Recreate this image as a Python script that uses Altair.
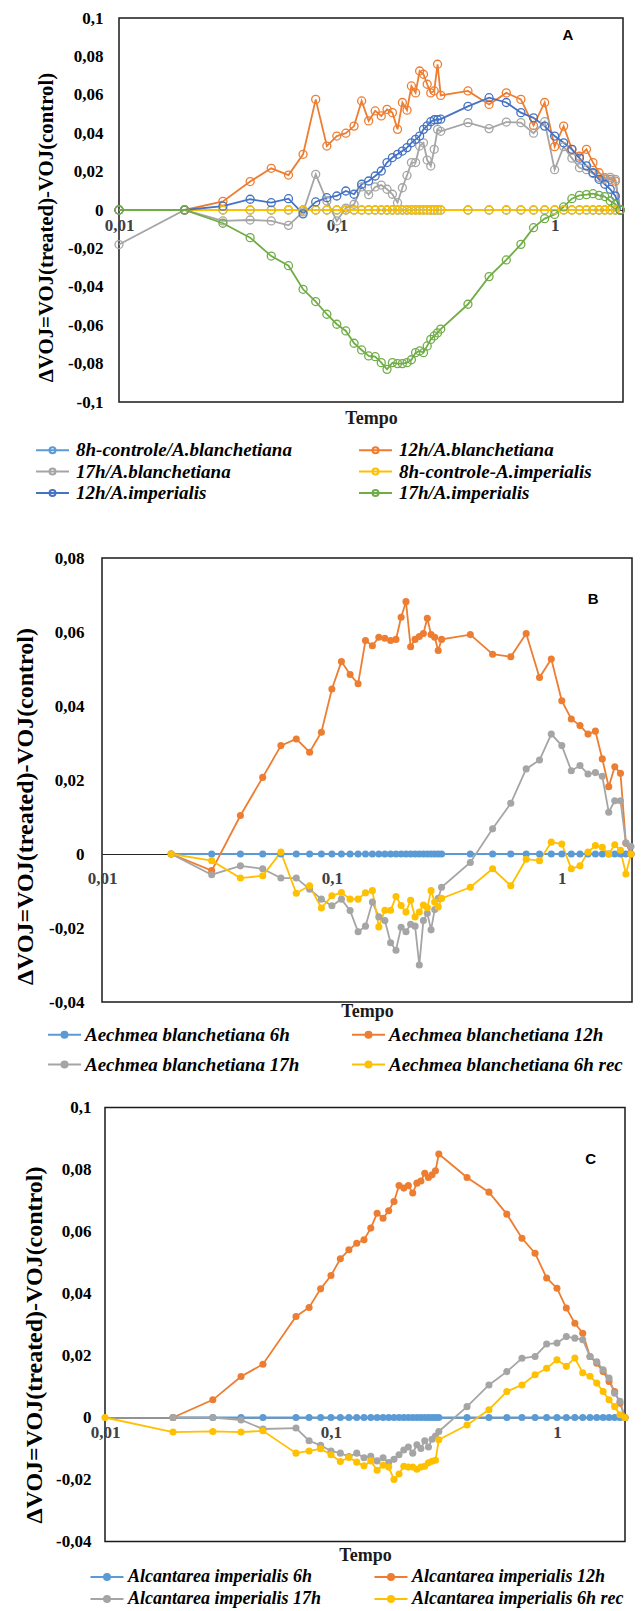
import altair as alt
import pandas as pd

# ---------------- data ----------------
X_A = [0.01, 0.02, 0.03, 0.04, 0.05, 0.06, 0.07, 0.08, 0.09, 0.10,
       0.11, 0.12, 0.13, 0.14, 0.15, 0.16, 0.17, 0.18, 0.19, 0.20,
       0.21, 0.22, 0.23, 0.24, 0.25, 0.26, 0.27, 0.28, 0.29, 0.30,
       0.4, 0.5, 0.6, 0.7, 0.8, 0.9, 1.0,
       1.1, 1.2, 1.3, 1.4, 1.5, 1.6, 1.7, 1.8, 1.9, 2.0]

NAMES_A = ["8h-controle/A.blanchetiana", "12h/A.blanchetiana", "17h/A.blanchetiana",
           "8h-controle-A.imperialis", "12h/A.imperialis", "17h/A.imperialis"]
COLORS_A = ["#5B9BD5", "#ED7D31", "#A5A5A5", "#FFC000", "#4472C4", "#70AD47"]

A_CTRL_BLANCH = [0, 0, 0, 0, 0, 0, 0, 0, 0, 0,
                 0, 0, 0, 0, 0, 0, 0, 0, 0, 0,
                 0, 0, 0, 0, 0, 0, 0, 0, 0, 0,
                 0, 0, 0, 0, 0, 0, 0,
                 0, 0, 0, 0, 0, 0, 0, 0, 0, 0]
A_12H_BLANCH = [0, 0, 0.0045, 0.0148, 0.0217, 0.0182, 0.029, 0.0576, 0.0333, 0.0385,
                0.040, 0.0437, 0.0568, 0.0464, 0.0516, 0.049, 0.0524, 0.0507, 0.042, 0.056,
                0.052, 0.0646, 0.061, 0.0724, 0.0707, 0.0655, 0.061, 0.062, 0.0759, 0.0597,
                0.062, 0.055, 0.061, 0.0576, 0.044, 0.056, 0.033,
                0.0437, 0.0316, 0.028, 0.0316, 0.0247, 0.0194, 0.0168, 0.016, 0.015, 0]
A_17H_BLANCH = [-0.018, 0, -0.0057, -0.0052, -0.0057, -0.008, -0.001, 0.0186, 0.0047, -0.0057,
                0.001, 0.003, 0.012, 0.008, 0.012, 0.013, 0.0108, 0.0082, 0.0038, 0.0116,
                0.018, 0.0247, 0.0247, 0.0333, 0.035, 0.026, 0.0229, 0.0316, 0.042, 0.041,
                0.0455, 0.0424, 0.0458, 0.0455, 0.040, 0.046, 0.021,
                0.033, 0.027, 0.022, 0.021, 0.019, 0.017, 0.016, 0.017, 0.016, 0]
A_CTRL_IMP = [0, 0, 0, 0, 0, 0, 0, 0, 0, 0,
              0, 0, 0, 0, 0, 0, 0, 0, 0, 0,
              0, 0, 0, 0, 0, 0, 0, 0, 0, 0,
              0, 0, 0, 0, 0, 0, 0,
              0, 0, 0, 0, 0, 0, 0, 0, 0, 0]
A_12H_IMP = [0, 0, 0.002, 0.0056, 0.0038, 0.0059, -0.002, 0.0042, 0.0064, 0.0073,
             0.0099, 0.0082, 0.0134, 0.0151, 0.0177, 0.0203, 0.0247, 0.0273, 0.029, 0.0307,
             0.0325, 0.035, 0.0368, 0.0385, 0.042, 0.0438, 0.046, 0.047, 0.047, 0.0473,
             0.054, 0.0585, 0.056, 0.0507, 0.048, 0.0437, 0.0385,
             0.035, 0.0316, 0.027, 0.023, 0.0194, 0.016, 0.0134, 0.0108, 0.0073, 0]
A_17H_IMP = [0, 0, -0.0069, -0.0144, -0.024, -0.029, -0.0413, -0.0477, -0.0543, -0.0595,
             -0.063, -0.0694, -0.0729, -0.076, -0.0764, -0.0795, -0.083, -0.0795, -0.080, -0.080,
             -0.0795, -0.078, -0.0743, -0.0734, -0.0743, -0.0708, -0.0674, -0.0656, -0.064, -0.062,
             -0.0491, -0.0347, -0.026, -0.0179, -0.0092, -0.0045, -0.0023,
             0.0016, 0.0059, 0.0076, 0.008, 0.0085, 0.0076, 0.007, 0.0047, 0.003, 0]

X_B = [0.02, 0.03, 0.04, 0.05, 0.06, 0.07, 0.08, 0.09, 0.10,
       0.11, 0.12, 0.13, 0.14, 0.15, 0.16, 0.17, 0.18, 0.19, 0.20,
       0.21, 0.22, 0.23, 0.24, 0.25, 0.26, 0.27, 0.28, 0.29, 0.30,
       0.4, 0.5, 0.6, 0.7, 0.8, 0.9, 1.0,
       1.1, 1.2, 1.3, 1.4, 1.5, 1.6, 1.7, 1.8, 1.9, 2.0]
NAMES_B = ["Aechmea blanchetiana 6h", "Aechmea blanchetiana 12h",
           "Aechmea blanchetiana 17h", "Aechmea blanchetiana 6h rec"]
COLORS_BC = ["#5B9BD5", "#ED7D31", "#A5A5A5", "#FFC000"]

B_6H = [0, 0, 0, 0, 0, 0, 0, 0, 0,
        0, 0, 0, 0, 0, 0, 0, 0, 0, 0,
        0, 0, 0, 0, 0, 0, 0, 0, 0, 0,
        0, 0, 0, 0, 0, 0, 0,
        0, 0, 0, 0, 0, 0, 0, 0, 0, 0]
B_12H = [0, -0.0045, 0.0104, 0.0207, 0.0293, 0.0311, 0.0275, 0.0329, 0.0446,
         0.052, 0.0485, 0.046, 0.0577, 0.0563, 0.0586, 0.0583, 0.0577, 0.058, 0.064,
         0.0682, 0.056, 0.058, 0.0588, 0.0596, 0.0637, 0.0593, 0.0586, 0.055, 0.058,
         0.0593, 0.054, 0.0533, 0.0596, 0.0477, 0.0527, 0.0414,
         0.0365, 0.0347, 0.0324, 0.0332, 0.0257, 0.0182, 0.0236, 0.0218, 0.0029, 0]
B_17H = [0, -0.0056, -0.0032, -0.004, -0.0065, -0.0065, -0.0095, -0.0122, -0.014,
         -0.0122, -0.0153, -0.021, -0.0195, -0.013, -0.017, -0.018, -0.024, -0.026, -0.0198,
         -0.021, -0.019, -0.0195, -0.030, -0.018, -0.016, -0.0205, -0.015, -0.012, -0.009,
         -0.0023, 0.0068, 0.0137, 0.023, 0.0254, 0.0324, 0.0293,
         0.0225, 0.0239, 0.0216, 0.022, 0.021, 0.0113, 0.0144, 0.0144, 0.003, 0.002]
B_6H_REC = [0, -0.0018, -0.0065, -0.0059, 0.0005, -0.0106, -0.0086, -0.0146, -0.0113,
            -0.0104, -0.0122, -0.0122, -0.0105, -0.0099, -0.0197, -0.0152, -0.0152, -0.0115, -0.0139,
            -0.0157, -0.0125, -0.017, -0.0157, -0.0138, -0.0145, -0.0099, -0.013, -0.0143, -0.012,
            -0.009, -0.004, -0.0086, -0.0014, -0.0018, 0.0032, 0.0027,
            -0.004, -0.0032, 0.0005, 0.0023, 0.0018, 0, 0.0025, 0.001, -0.0054, 0]

X_C = [0.01, 0.02, 0.03, 0.04, 0.05, 0.07, 0.08, 0.09, 0.10,
       0.11, 0.12, 0.13, 0.14, 0.15, 0.16, 0.17, 0.18, 0.19, 0.20,
       0.21, 0.22, 0.23, 0.24, 0.25, 0.26, 0.27, 0.28, 0.29, 0.30,
       0.4, 0.5, 0.6, 0.7, 0.8, 0.9, 1.0,
       1.1, 1.2, 1.3, 1.4, 1.5, 1.6, 1.7, 1.8, 1.9, 2.0]
NAMES_C = ["Alcantarea imperialis 6h", "Alcantarea imperialis 12h",
           "Alcantarea imperialis 17h", "Alcantarea imperialis 6h rec"]
C_6H = [None, 0, 0, 0, 0, 0, 0, 0, 0,
        0, 0, 0, 0, 0, 0, 0, 0, 0, 0,
        0, 0, 0, 0, 0, 0, 0, 0, 0, 0,
        0, 0, 0, 0, 0, 0, 0,
        0, 0, 0, 0, 0, 0, 0, 0, 0, 0]
C_12H = [None, 0, 0.0057, 0.0132, 0.0172, 0.0326, 0.0355, 0.0415, 0.0458,
         0.0512, 0.0541, 0.0562, 0.0573, 0.0611, 0.0659, 0.0643, 0.0667, 0.0697, 0.0748,
         0.074, 0.0748, 0.0724, 0.0756, 0.0763, 0.0788, 0.0774, 0.0783, 0.0796, 0.085,
         0.0774, 0.0727, 0.0656, 0.0578, 0.053, 0.045, 0.0417,
         0.0353, 0.0304, 0.0272, 0.0197, 0.0175, 0.0148, 0.0116, 0.0084, 0.0046, 0]
C_17H = [None, 0, 0, -0.0008, -0.0037, -0.0034, -0.0075, -0.009, -0.0108,
         -0.0115, -0.0126, -0.0115, -0.013, -0.0125, -0.014, -0.013, -0.0145, -0.0135, -0.012,
         -0.0105, -0.0095, -0.0115, -0.0088, -0.01, -0.0075, -0.0095, -0.007, -0.006, -0.0045,
         0.0035, 0.0105, 0.0148, 0.0191, 0.0197, 0.0237, 0.024,
         0.0261, 0.0256, 0.0251, 0.0197, 0.018, 0.0154, 0.0127, 0.0078, 0.0052, 0]
C_6H_REC = [0, -0.0047, -0.0045, -0.0047, -0.0043, -0.0115, -0.0108, -0.0101, -0.012,
            -0.0142, -0.0129, -0.0144, -0.0156, -0.0140, -0.017, -0.0154, -0.016, -0.02, -0.0182,
            -0.0157, -0.016, -0.016, -0.0167, -0.016, -0.0157, -0.0146, -0.0141, -0.0138, -0.0072,
            -0.0024, 0.0025, 0.0084, 0.0105, 0.0138, 0.0159, 0.0186,
            0.0165, 0.0192, 0.0144, 0.0133, 0.0111, 0.0084, 0.0057, 0.0035, 0.0009, 0]

X_TICKS = [0.01, 0.1, 1]
X_TICK_LABELS = ["0,01", "0,1", "1"]
Y_TICKS_A = [-0.1, -0.08, -0.06, -0.04, -0.02, 0, 0.02, 0.04, 0.06, 0.08, 0.1]
Y_LABELS_A = ["-0,1", "-0,08", "-0,06", "-0,04", "-0,02", "0", "0,02", "0,04", "0,06", "0,08", "0,1"]
Y_TICKS_B = [-0.04, -0.02, 0, 0.02, 0.04, 0.06, 0.08]
Y_LABELS_B = ["-0,04", "-0,02", "0", "0,02", "0,04", "0,06", "0,08"]
Y_TICKS_C = [-0.04, -0.02, 0, 0.02, 0.04, 0.06, 0.08, 0.1]
Y_LABELS_C = ["-0,04", "-0,02", "0", "0,02", "0,04", "0,06", "0,08", "0,1"]

Y_TITLE = "ΔVOJ=VOJ(treated)-VOJ(control)"
X_TITLE = "Tempo"

SERIF = "Liberation Serif"
SANS = "Liberation Sans"
# line with a small circle, wider than the symbol box so rows stay compact
LEG_SYMBOL = "M-2.2,0L2.2,0M0.4,0A0.4,0.4,0,1,1,-0.4,0A0.4,0.4,0,1,1,0.4,0"
LEFT_EXTENT = 89.5  # every panel reaches this far left of its plot area


def label_expr(vals, labels):
    expr = "'" + labels[-1] + "'"
    for v, l in reversed(list(zip(vals[:-1], labels[:-1]))):
        expr = "datum.value == " + repr(v) + " ? '" + l + "' : " + expr
    return expr


def build_df(x, names, series):
    rows = []
    for k, (name, vals) in enumerate(zip(names, series)):
        for xv, yv in zip(x, vals):
            if yv is None:
                continue
            rows.append({"t": xv, "v": yv, "serie": name, "k": k})
    return pd.DataFrame(rows)


def panel(df, names, colors, letter, letter_xy, xmax, ydom, yticks, ylabels,
          w, h, zero_rel, filled, ylab_pad, ytitle_x, ytitle_y, ytitle_size, xlab_pad,
          tempo_rel, leg_x, leg_y, leg_font, leg_rowpad, leg_colpad, leg_labeloff):
    xs = alt.Scale(type="log", domain=[0.01, xmax], nice=False)
    ys = alt.Scale(domain=ydom, nice=False, zero=False)
    xaxis = alt.Axis(values=X_TICKS, labelExpr=label_expr(X_TICKS, X_TICK_LABELS),
                     orient="bottom", offset=-(h - zero_rel), domain=True,
                     domainColor="#262626", domainWidth=1.2, ticks=False, grid=False,
                     labelFont=SERIF, labelFontWeight="bold", labelFontSize=17,
                     labelColor="#404040", labelPadding=xlab_pad, labelFlush=False,
                     labelOverlap=False, title=X_TITLE, titleFont=SERIF,
                     titleFontWeight="bold", titleFontSize=18, titleColor="#1a1a1a",
                     titleY=tempo_rel, titleBaseline="middle")
    yaxis = alt.Axis(values=yticks, labelExpr=label_expr(yticks, ylabels),
                     domain=False, ticks=False, grid=False, labelFont=SERIF,
                     labelFontWeight="bold", labelFontSize=17, labelColor="black",
                     labelPadding=ylab_pad, labelOverlap=False, title=Y_TITLE,
                     titleFont=SERIF, titleFontWeight="bold", titleFontSize=ytitle_size,
                     titleColor="black", titleX=ytitle_x, titleY=ytitle_y,
                     titleBaseline="middle", titleAlign="center", titleAngle=270)
    legend = alt.Legend(orient="none", legendX=leg_x, legendY=leg_y, columns=2,
                        direction="horizontal",
                        title=None, symbolType=LEG_SYMBOL, symbolSize=225,
                        symbolStrokeWidth=2, labelFont=SERIF, labelFontSize=leg_font,
                        labelFontStyle="italic", labelFontWeight="bold",
                        labelColor="black", labelOffset=leg_labeloff, labelLimit=500,
                        rowPadding=leg_rowpad, columnPadding=leg_colpad, padding=0)
    color = alt.Color("serie:N", scale=alt.Scale(domain=names, range=colors),
                      sort=names, legend=legend)
    base = alt.Chart(df)
    line = base.mark_line(strokeWidth=1.8).encode(
        x=alt.X("t:Q", scale=xs, axis=xaxis),
        y=alt.Y("v:Q", scale=ys, axis=yaxis),
        color=color, detail="serie:N")
    if filled:
        pts = base.mark_point(filled=True, size=50, opacity=1)
    else:
        pts = base.mark_point(filled=False, size=64, strokeWidth=1.3, opacity=1)
    pts = pts.encode(x=alt.X("t:Q", scale=xs, axis=xaxis),
                     y=alt.Y("v:Q", scale=ys, axis=yaxis), color=color)
    lab_df = pd.DataFrame({"t": [letter_xy[0]], "v": [letter_xy[1]], "lab": [letter]})
    lab = alt.Chart(lab_df).mark_text(font=SANS, fontWeight="bold", fontSize=15,
                                      color="black", align="center", baseline="middle").encode(
        x=alt.X("t:Q", scale=xs, axis=xaxis), y=alt.Y("v:Q", scale=ys, axis=yaxis), text="lab:N")
    spacer = alt.Chart(pd.DataFrame({"s": [0]})).mark_rule(color="white", strokeWidth=1).encode(
        x=alt.value(-LEFT_EXTENT), x2=alt.value(-LEFT_EXTENT), y=alt.value(0), y2=alt.value(h))
    return alt.layer(spacer, line, pts, lab).properties(width=w, height=h)


def indent(width):
    # empty strip that shifts the panel to its own left position
    return alt.Chart(pd.DataFrame({"s": [0]})).mark_rule(color="white", strokeWidth=1).encode(
        x=alt.value(0), x2=alt.value(width), y=alt.value(0)).properties(
        width=width, height=1, view=alt.ViewBackground(strokeOpacity=0))


df_a = build_df(X_A, NAMES_A, [A_CTRL_BLANCH, A_12H_BLANCH, A_17H_BLANCH,
                                A_CTRL_IMP, A_12H_IMP, A_17H_IMP])
df_b = build_df(X_B, NAMES_B, [B_6H, B_12H, B_17H, B_6H_REC])
df_c = build_df(X_C, NAMES_C, [C_6H, C_12H, C_17H, C_6H_REC])

pa = panel(df_a, NAMES_A, COLORS_A, "A", (1.15, 0.091), 2.06, [-0.1, 0.1],
           Y_TICKS_A, Y_LABELS_A, 504, 384, 192, False, 16, -73, 209, 20.8, 7.5,
           208, -76, 422.5, 19, 1.5, 63, 14)
pb = panel(df_b, NAMES_B, COLORS_BC, "B", (1.37, 0.0688), 2.02, [-0.04, 0.08],
           Y_TICKS_B, Y_LABELS_B, 530, 444, 296, True, 18, -77, 248, 24, 16,
           157, -47, 467, 19, 10, 48, 11)
pc = panel(df_c, NAMES_C, COLORS_BC, "C", (1.41, 0.0833), 2.0, [-0.04, 0.1],
           Y_TICKS_C, Y_LABELS_C, 520, 434, 310, True, 14, -71, 237, 24, 7,
           138, -7, 460.5, 18, 4, 48, 12)

row_a = alt.hconcat(indent(18), pa, spacing=0).resolve_scale(color="independent")
row_b = alt.hconcat(indent(1), pb, spacing=0).resolve_scale(color="independent")
row_c = alt.hconcat(indent(4), pc, spacing=0).resolve_scale(color="independent")

inner = alt.concat(row_b, row_c, columns=1, spacing=21.5, align="none").resolve_scale(
    color="independent")
chart = alt.concat(row_a, inner, columns=1, spacing=43, align="none").properties(
    padding=0).configure_view(stroke="#1a1a1a", strokeWidth=1.5).resolve_scale(
    color="independent")

chart.save("out.html", embed_options={"renderer": "svg", "actions": False})
